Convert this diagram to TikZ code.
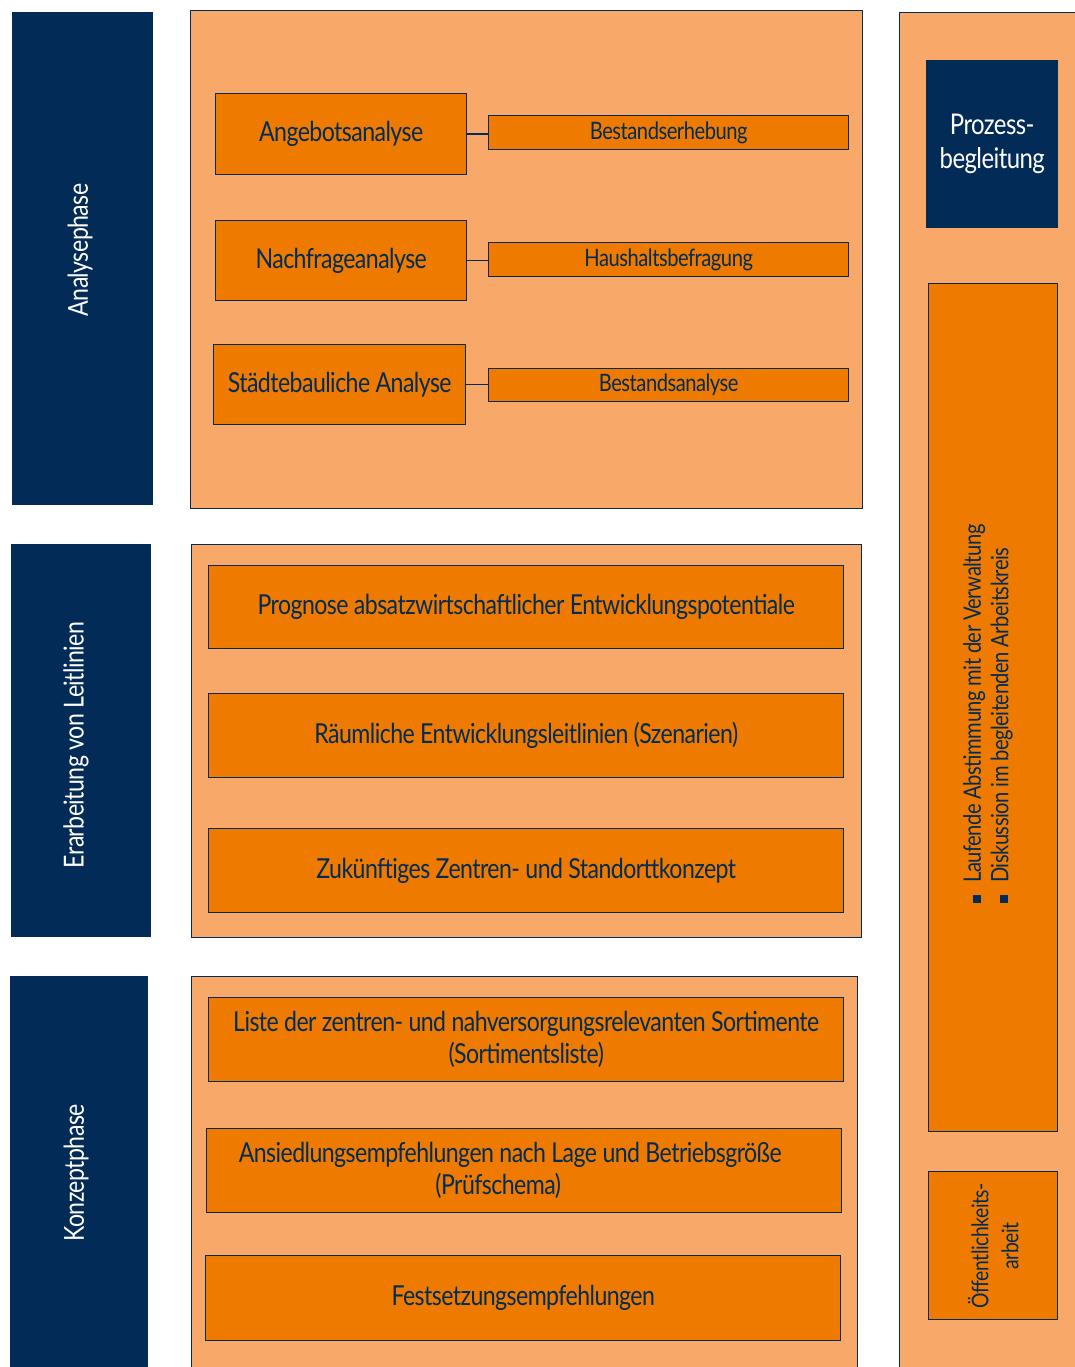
\documentclass[tikz,border=0pt]{standalone}
\usepackage{fontspec}
\setmainfont[FakeStretch=0.84,LetterSpace=-2]{Lato}
\definecolor{navy}{HTML}{022B57}
\definecolor{lightor}{HTML}{F8A868}
\definecolor{darkor}{HTML}{EE7B00}
\begin{document}
\begin{tikzpicture}[x=1pt,y=-1pt,
  phase/.style={fill=navy, draw=none, inner sep=0, anchor=north west},
  phaselabel/.style={text=white, rotate=90, font=\fontsize{27.5}{31}\selectfont, inner sep=0},
  panel/.style={fill=lightor, draw=navy, line width=0.9pt, anchor=north west, inner sep=0},
  box/.style={fill=darkor, draw=navy, line width=1.4pt, anchor=north west, inner sep=0, text=navy, align=center, font=\fontsize{27.5}{32}\selectfont},
  smallbox/.style={box, font=\fontsize{24}{27}\selectfont},
  conn/.style={draw=navy, line width=1.4pt}
]
\useasboundingbox (0,0) rectangle (1074,1367);
\fill[white] (0,0) rectangle (1074,1367);

% left phase columns
\node[phase, minimum width=141, minimum height=493] (p1) at (12,12) {};
\node[phase, minimum width=140, minimum height=393] (p2) at (11,544) {};
\node[phase, minimum width=138, minimum height=400] (p3) at (10,976) {};
\node[phaselabel] (l1) at (80,250) {Analysephase};
\node[phaselabel] (l2) at (76,745) {Erarbeitung von Leitlinien};
\node[phaselabel] (l3) at (76,1173) {Konzeptphase};

% middle panels
\node[panel, minimum width=672, minimum height=498] (m1) at (190,10) {};
\node[panel, minimum width=670, minimum height=393] (m2) at (191,544) {};
\node[panel, minimum width=666, minimum height=400] (m3) at (191,976) {};

% panel 1 content
\node[box, minimum width=251, minimum height=81] (ang) at (215,93) {Angebotsanalyse};
\node[box, minimum width=251, minimum height=80] (nach) at (215,220) {Nachfrageanalyse};
\node[box, minimum width=252, minimum height=80] (stad) at (213,344) {Städtebauliche Analyse};
\node[smallbox, minimum width=360, minimum height=34] (best) at (488,115) {Bestandserhebung};
\node[smallbox, minimum width=360, minimum height=34] (haus) at (488,242) {Haushaltsbefragung};
\node[smallbox, minimum width=360, minimum height=33] (bana) at (488,368) {Bestandsanalyse};
\draw[conn] (ang.east) -- (ang.east -| best.west);
\draw[conn] (nach.east) -- (nach.east -| haus.west);
\draw[conn] (stad.east) -- (stad.east -| bana.west);

% panel 2 content
\node[box, minimum width=635, minimum height=83] (prog) at (208,565) {Prognose absatzwirtschaftlicher Entwicklungspotentiale};
\node[box, minimum width=635, minimum height=84] (raum) at (208,693) {Räumliche Entwicklungsleitlinien (Szenarien)};
\node[box, minimum width=635, minimum height=84] (zuk) at (208,828) {Zukünftiges Zentren- und Standorttkonzept};

% panel 3 content
\node[box, minimum width=635, minimum height=84] (liste) at (208,997) {Liste der zentren- und nahversorgungsrelevanten Sortimente\\(Sortimentsliste)};
\node[box, minimum width=635, minimum height=84] (ansi) at (206,1128) {Ansiedlungsempfehlungen nach Lage und Betriebsgröße\hspace*{28pt}\\(Prüfschema)\hspace*{52pt}};
\node[box, minimum width=635, minimum height=85] (fest) at (205,1255) {Festsetzungsempfehlungen};

% right column
\node[panel, minimum width=190, minimum height=1370] (r) at (899,12) {};
\node[phase, minimum width=132, minimum height=168, text=white, align=center, font=\fontsize{28.5}{34}\selectfont] (proz) at (926,60) {Prozess-\\begleitung};
\node[box, minimum width=129, minimum height=848] (lauf) at (928,283) {};
\node[rotate=90, anchor=north west, text=navy, align=left, inner sep=0, font=\fontsize{24}{27.5}\selectfont] (lauft) at (963,903)
  {\rule{8pt}{8pt}\hspace{12pt}Laufende Abstimmung mit  der Verwaltung\\\rule{8pt}{8pt}\hspace{12pt}Diskussion im begleitenden Arbeitskreis};
\node[box, minimum width=129, minimum height=148] (oeff) at (928,1171) {};
\node[rotate=90, text=navy, align=center, inner sep=0, font=\fontsize{23}{30}\selectfont] (oefft) at (oeff.center) {Öffentlichkeits-\\arbeit};
\end{tikzpicture}
\end{document}
